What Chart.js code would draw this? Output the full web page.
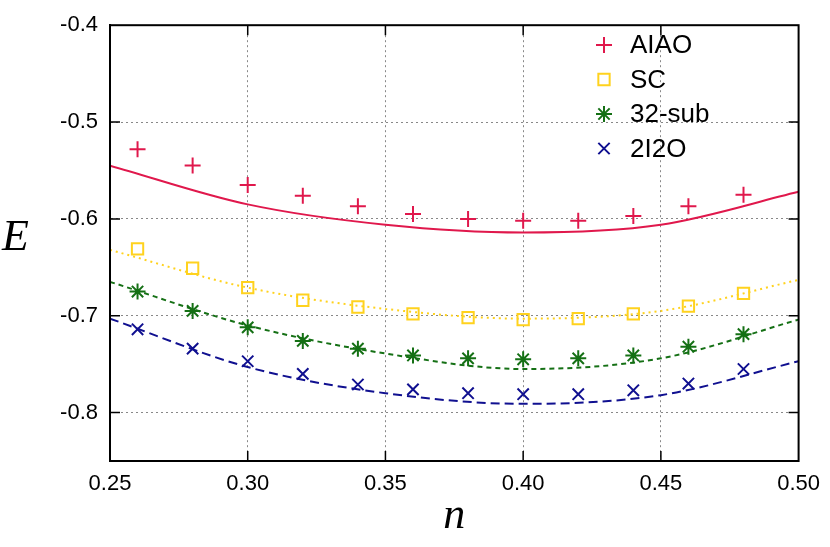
<!DOCTYPE html>
<html><head><meta charset="utf-8">
<script src="https://cdn.jsdelivr.net/npm/chart.js@4"></script>
<style>html,body{margin:0;padding:0;background:#fff}#w{width:830px;height:547px}</style>
</head><body><div id="w"><canvas id="c"></canvas></div>
<script>
const nPts = [0.26,0.28,0.30,0.32,0.34,0.36,0.38,0.40,0.42,0.44,0.46,0.48];
const aiaoPts = [-0.528,-0.545,-0.565,-0.576,-0.587,-0.595,-0.600,-0.602,-0.602,-0.597,-0.587,-0.575];
const scPts = [-0.631,-0.651,-0.671,-0.684,-0.691,-0.698,-0.702,-0.704,-0.703,-0.698,-0.690,-0.677];
const subPts = [-0.675,-0.695,-0.712,-0.726,-0.734,-0.741,-0.744,-0.745,-0.744,-0.741,-0.732,-0.719];
const ioPts = [-0.714,-0.734,-0.747,-0.760,-0.771,-0.776,-0.780,-0.781,-0.781,-0.777,-0.770,-0.755];
const nFit = [0.25,0.30,0.35,0.40,0.45,0.50];
const aiaoFit = [-0.545,-0.585,-0.606,-0.614,-0.606,-0.572];
const scFit = [-0.632,-0.671,-0.693,-0.703,-0.695,-0.663];
const subFit = [-0.665,-0.710,-0.739,-0.755,-0.744,-0.704];
const ioFit = [-0.703,-0.753,-0.780,-0.791,-0.782,-0.747];
const xTicks = [0.25,0.30,0.35,0.40,0.45,0.50];
const yTicks = [-0.8,-0.7,-0.6,-0.5,-0.4];
const names = ['AIAO','SC','32-sub','2I2O'];
const colors = ['#e0184c','#ffd21e','#157015','#101090'];
const styles = ['cross','rect','star','crossRot'];
const radii = [8,8,8,8];
const dashes = [[],[2,4],[5,4],[9,5]];
const pts = [aiaoPts,scPts,subPts,ioPts], fits=[aiaoFit,scFit,subFit,ioFit];
const ds=[];
for(let i=0;i<4;i++){
  ds.push({type:'line',data:nFit.map((x,j)=>({x,y:fits[i][j]})),borderColor:colors[i],borderWidth:2,borderDash:dashes[i],pointRadius:0,tension:0.4,cubicInterpolationMode:'monotone',fill:false});
  ds.push({type:'scatter',label:names[i],data:nPts.map((x,j)=>({x,y:pts[i][j]})),pointStyle:styles[i],pointRadius:radii[i],borderColor:colors[i],backgroundColor:'rgba(0,0,0,0)',pointBorderWidth:2,showLine:false});
}
const extra={id:'extra',afterDatasetsDraw(ch){const c=ch.ctx,a=ch.chartArea;c.save();
 c.strokeStyle='#000';c.lineWidth=2;c.setLineDash([]);c.strokeRect(a.left,a.top,a.right-a.left,a.bottom-a.top);
 // inward tick marks
 c.lineWidth=1.5;
 xTicks.slice(1,-1).forEach(v=>{const x=ch.scales.x.getPixelForValue(v);c.beginPath();c.moveTo(x,a.bottom);c.lineTo(x,a.bottom-10);c.moveTo(x,a.top);c.lineTo(x,a.top+10);c.stroke();});
 yTicks.slice(0,-1).forEach(v=>{const y=ch.scales.y.getPixelForValue(v);c.beginPath();c.moveTo(a.left,y);c.lineTo(a.left+10,y);c.moveTo(a.right,y);c.lineTo(a.right-10,y);c.stroke();});
 c.fillStyle='#000';c.font='italic 44px "Liberation Serif"';c.textAlign='left';c.textBaseline='middle';c.fillText('E',2,238);
 for(let i=0;i<4;i++){const y=45+i*34.5;const x=604;
  c.strokeStyle=colors[i];c.fillStyle='rgba(0,0,0,0)';c.lineWidth=2;
  Chart.helpers.drawPoint(c,{pointStyle:styles[i],radius:radii[i],rotation:0,borderWidth:2},x,y);
  c.fillStyle='#000';c.font='26px "Liberation Sans"';c.textAlign='left';c.textBaseline='middle';c.fillText(names[i],630,y+1);}
 c.restore();}};
new Chart(document.getElementById('c'),{data:{datasets:ds},plugins:[extra],
options:{responsive:true,maintainAspectRatio:false,animation:false,
 layout:{padding:{top:10,right:22,left:0,bottom:0}},
 plugins:{legend:{display:false},tooltip:{enabled:false}},
 scales:{
  x:{type:'linear',min:0.25,max:0.5,afterBuildTicks:a=>{a.ticks=xTicks.map(v=>({value:v}))},
     afterFit:a=>{a.height=86},
     ticks:{callback:v=>v.toFixed(2),color:'#000',font:{size:22,family:'Liberation Sans Narrow, Liberation Sans'},maxRotation:0,padding:10},
     grid:{color:'#888',drawTicks:false},border:{color:'#000',width:2,dash:[2,3]},
     title:{display:true,text:'n',color:'#000',font:{size:44,family:'Liberation Serif',style:'italic'},padding:{top:0}}},
  y:{type:'linear',min:-0.85,max:-0.4,afterBuildTicks:a=>{a.ticks=yTicks.map(v=>({value:v}))},
     afterFit:a=>{a.width=110},
     ticks:{callback:v=>v.toFixed(1),color:'#000',font:{size:22,family:'Liberation Sans'},padding:12},
     grid:{color:'#888',drawTicks:false},border:{color:'#000',width:2,dash:[2,3]},
     title:{display:false}}
 }}});
</script></body></html>
